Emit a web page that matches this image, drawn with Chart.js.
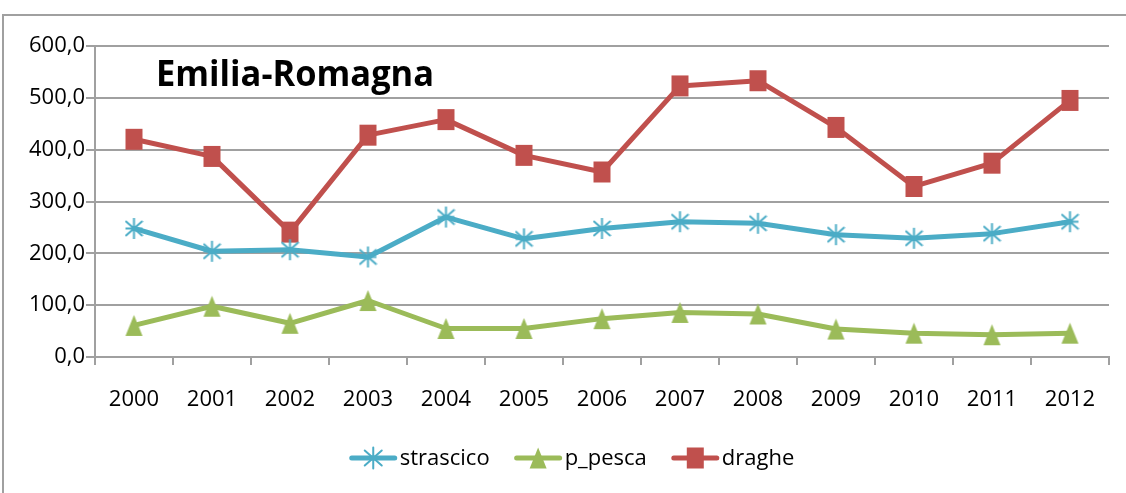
<!DOCTYPE html>
<html>
<head>
<meta charset="utf-8">
<script src="https://cdn.jsdelivr.net/npm/chart.js@4.4.1/dist/chart.umd.min.js"></script>
<style>
  html, body { margin: 0; padding: 0; background: #fff; overflow: hidden; }
  #wrap { position: relative; width: 1126px; height: 493px; }
  #frame { position: absolute; left: 2px; top: 14px; width: 1200px; height: 600px; border: 2px solid #a0a0a0; box-sizing: border-box; }
  #chart { position: absolute; left: 0; top: 0; }
</style>
</head>
<body>
<div id="wrap">
  <div id="frame"></div>
  <canvas id="chart" width="1126" height="493"></canvas>
</div>
<script>
const years = ['2000', '2001', '2002', '2003', '2004', '2005', '2006', '2007', '2008', '2009', '2010', '2011', '2012'];
const strascico = [248, 204, 207, 193, 270, 228, 248, 261, 258, 236, 229, 238, 261];
const pPesca = [61, 98, 65, 109, 55, 55, 74, 86, 83, 54, 46, 43, 46];
const draghe = [420, 387, 241, 428, 458, 389, 357, 523, 533, 443, 329, 374, 495];
const yTicks = [0, 100, 200, 300, 400, 500, 600];

const FONT = '"Open Sans", sans-serif';
const BLUE = '#4BACC6';
const GREEN = '#9BBB59';
const RED = '#C0504D';
const GRID = '#a0a0a0';

// marker glyphs, drawn once into small canvases
function drawMarker(ctx, kind, cx, cy, color) {
  const w = 17, h = 21;
  ctx.save();
  ctx.fillStyle = color;
  ctx.strokeStyle = color;
  if (kind === 'square') {
    ctx.fillRect(cx - w / 2, cy - h / 2, w, h);
  } else if (kind === 'triangle') {
    ctx.beginPath();
    ctx.moveTo(cx, cy - h / 2);
    ctx.lineTo(cx + w / 2, cy + h / 2);
    ctx.lineTo(cx - w / 2, cy + h / 2);
    ctx.closePath();
    ctx.fill();
  } else {
    ctx.lineWidth = 2;
    ctx.beginPath();
    ctx.moveTo(cx, cy - h / 2); ctx.lineTo(cx, cy + h / 2);
    ctx.moveTo(cx - w / 2, cy - h / 2 + 3); ctx.lineTo(cx + w / 2, cy + h / 2 - 3);
    ctx.moveTo(cx + w / 2, cy - h / 2 + 3); ctx.lineTo(cx - w / 2, cy + h / 2 - 3);
    ctx.moveTo(cx - w / 2, cy); ctx.lineTo(cx + w / 2, cy);
    ctx.stroke();
  }
  ctx.restore();
}

function markerImage(kind, color) {
  const c = document.createElement('canvas');
  c.width = 19; c.height = 23;
  drawMarker(c.getContext('2d'), kind, 9.5, 11.5, color);
  return c;
}

function yLabel(v) {
  return v.toFixed(1).replace('.', ',');
}

const series = [
  { label: 'strascico', data: strascico, color: BLUE, marker: 'star' },
  { label: 'p_pesca', data: pPesca, color: GREEN, marker: 'triangle' },
  { label: 'draghe', data: draghe, color: RED, marker: 'square' }
];

const titlePlugin = {
  id: 'regionTitle',
  afterDraw(chart) {
    const ctx = chart.ctx;
    const text = 'Emilia-Romagna';
    ctx.save();
    ctx.font = 'bold 35px "Open Sans", sans-serif';
    ctx.fillStyle = '#000';
    ctx.textBaseline = 'alphabetic';
    const w = ctx.measureText(text).width;
    ctx.translate(156, 86);
    ctx.scale(278 / w, 1);
    ctx.fillText(text, 0, 0);
    ctx.restore();
  }
};

// legend: line sample with marker, then the series name
const legendPlugin = {
  id: 'lineLegend',
  afterDraw(chart) {
    const ctx = chart.ctx;
    ctx.save();
    ctx.font = '22px ' + FONT;
    ctx.textBaseline = 'middle';
    const lineW = 47, gapText = 3, gapItem = 25, cy = 458;
    const items = chart.data.datasets.map(ds => ({ ds, tw: ctx.measureText(ds.label).width }));
    const total = items.reduce((s, it) => s + lineW + gapText + it.tw, 0) + gapItem * (items.length - 1);
    let x = 572 - total / 2;
    items.forEach(it => {
      ctx.strokeStyle = it.ds.borderColor;
      ctx.lineWidth = 5;
      ctx.lineCap = 'round';
      ctx.beginPath();
      ctx.moveTo(x + 2, cy);
      ctx.lineTo(x + lineW - 2, cy);
      ctx.stroke();
      drawMarker(ctx, it.ds.markerKind, x + lineW / 2, cy, it.ds.borderColor);
      ctx.fillStyle = '#000';
      ctx.fillText(it.ds.label, x + lineW + gapText, cy + 1);
      x += lineW + gapText + it.tw + gapItem;
    });
    ctx.restore();
  }
};

new Chart(document.getElementById('chart'), {
  type: 'line',
  data: {
    labels: years,
    datasets: series.map(s => ({
      label: s.label,
      data: s.data,
      markerKind: s.marker,
      borderColor: s.color,
      backgroundColor: s.color,
      borderWidth: 5,
      borderJoinStyle: 'round',
      borderCapStyle: 'round',
      tension: 0,
      pointStyle: markerImage(s.marker, s.color),
      pointRadius: 10,
      fill: false
    }))
  },
  options: {
    responsive: false,
    animation: false,
    layout: { padding: { top: 46, right: 17, bottom: 0, left: 0 } },
    plugins: {
      legend: { display: false },
      tooltip: { enabled: false }
    },
    scales: {
      x: {
        offset: true,
        afterFit: scale => { scale.height = 136; },
        grid: { display: true, drawOnChartArea: false, offset: true, tickLength: 8, color: GRID, lineWidth: 2 },
        border: { display: true, color: GRID, width: 2 },
        ticks: { color: '#000', padding: 22, font: { size: 22, family: FONT } }
      },
      y: {
        min: 0,
        max: 600,
        afterFit: scale => { scale.width = 95; },
        afterBuildTicks: scale => { scale.ticks = yTicks.map(v => ({ value: v })); },
        grid: { color: GRID, lineWidth: 2, tickLength: 9 },
        border: { display: true, color: GRID, width: 2 },
        ticks: { color: '#000', padding: 1, font: { size: 22, family: FONT }, callback: v => yLabel(v) }
      }
    }
  },
  plugins: [titlePlugin, legendPlugin]
});
</script>
</body>
</html>
